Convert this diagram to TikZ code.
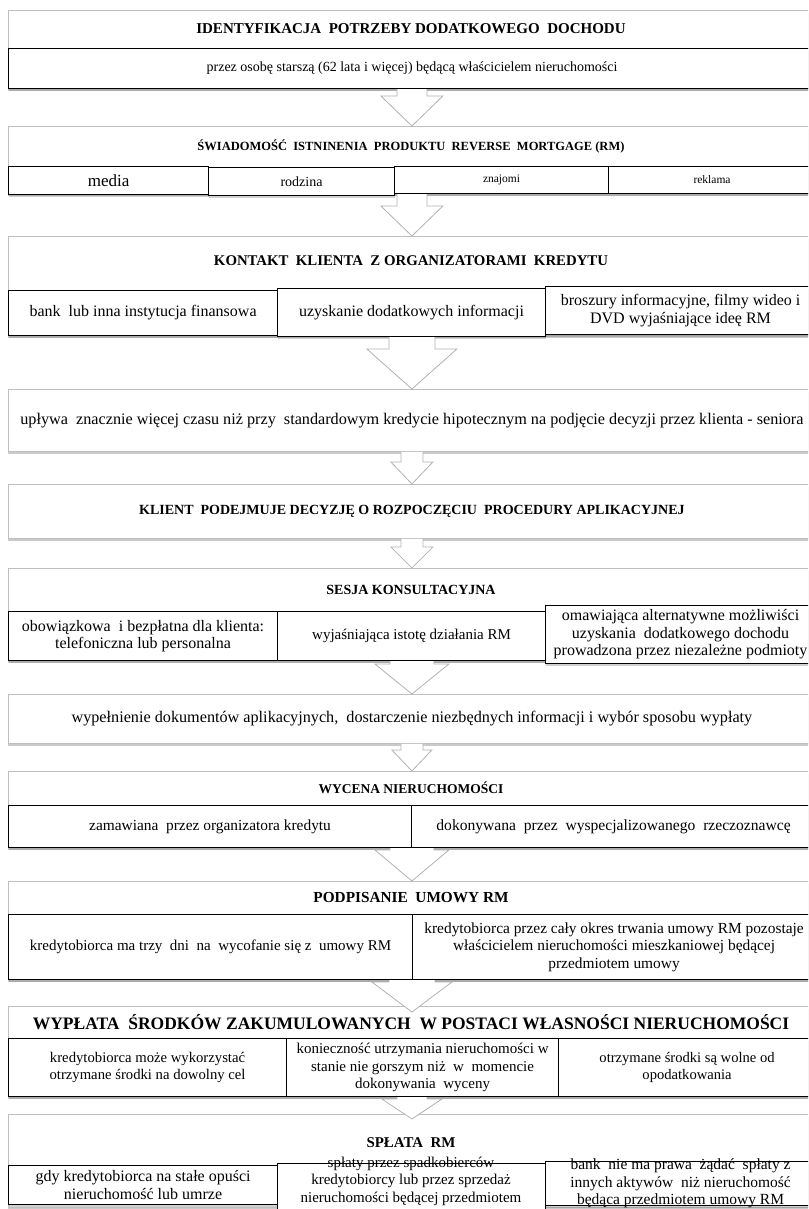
\documentclass[tikz,border=0pt]{standalone}
\usepackage{fontspec}
\setmainfont{Liberation Serif}
\usetikzlibrary{shadows,calc}
\tikzset{
  outerbox/.style={draw=black!25, line width=0.8pt, fill=white, anchor=north west, inner sep=0pt,
     drop shadow={shadow xshift=0pt, shadow yshift=-2.5pt, opacity=0.35, fill=black!60}},
  innerbox/.style={draw=black, line width=1.1pt, fill=white, anchor=north west, inner sep=0pt,
     drop shadow={shadow xshift=0pt, shadow yshift=-2.5pt, opacity=0.3, fill=black!60}},
  ttl/.style={font=\fontsize{#1}{16}\selectfont\bfseries, inner sep=0pt},
  ttl/.default=14,
  txt/.style={font=\fontsize{#1}{17.5}\selectfont, align=center, inner sep=0pt},
  txt/.default=15.5,
  arrowshape/.style={draw=black!30, line width=0.8pt, fill=white},
}
% #1 from node, #2 to node, #3 shaft half width, #4 head half width, #5 head length, #6 tip overlap
\newcommand\blockarrow[6]{%
  \filldraw[arrowshape] let \p1=(#1.south), \p2=(#2.north) in
    (\x2-#3pt,\y1) -- (\x2-#3pt,\y2-#6pt+#5pt) -- (\x2-#4pt,\y2-#6pt+#5pt) -- (\x2,\y2-#6pt)
    -- (\x2+#4pt,\y2-#6pt+#5pt) -- (\x2+#3pt,\y2-#6pt+#5pt) -- (\x2+#3pt,\y1);}
% box helper: name, x1, y1, x2, y2, style
\newcommand\bx[6]{\node[#6, minimum width=#4-#2, minimum height=#5-#3] (#1) at (#2,#3) {};}
\begin{document}
\begin{tikzpicture}[x=1pt,y=-1pt]
\useasboundingbox (0,0) rectangle (808,1209);
\clip (0,0) rectangle (808,1209);
% ---------- block 1
\bx{o1}{8}{10}{815}{88}{outerbox}
\node[ttl=15] (t1) at (411,29) {IDENTYFIKACJA\ \ POTRZEBY DODATKOWEGO\ \ DOCHODU};
\bx{i1}{8}{48}{815}{88}{innerbox}
\node[txt=14] at (i1) {przez osobę starszą (62 lata i więcej) będącą właścicielem nieruchomości};
% ---------- block 2
\bx{o2}{8}{126}{815}{193}{outerbox}
\node[ttl=12.5] (t2) at (411,146) {ŚWIADOMOŚĆ\ \ ISTNINENIA\ \ PRODUKTU\ \ REVERSE\ \ MORTGAGE\ (RM)};
\bx{r2a}{8}{166}{208}{194}{innerbox}
\bx{r2b}{208}{167}{394}{195}{innerbox}
\bx{r2c}{394}{166}{608}{193}{innerbox}
\bx{r2d}{608}{166}{815}{193}{innerbox}
\node[txt=17] at (r2a) {media};
\node[txt=14] at (r2b) {rodzina};
\node[txt=11.5] at (r2c) {znajomi};
\node[txt=11.5] at (r2d) {reklama};
% ---------- block 3
\bx{o3}{8}{236}{815}{335}{outerbox}
\node[ttl=14.8] (t3) at (411,261) {KONTAKT\ \ KLIENTA\ \ Z ORGANIZATORAMI\ \ KREDYTU};
\bx{r3a}{8}{290}{277}{335}{innerbox}
\bx{r3b}{277}{288}{545}{336}{innerbox}
\bx{r3c}{545}{286}{815}{334}{innerbox}
\node[txt=16] at (r3a) {bank\ \ lub inna instytucja finansowa};
\node[txt=16] at (r3b) {uzyskanie dodatkowych informacji};
\node[txt=16] at (r3c) {broszury informacyjne, filmy wideo i\\DVD wyjaśniające ideę RM};
% ---------- block 4
\bx{b4}{8}{389}{815}{451}{outerbox}
\node[txt=16.2] at (b4) {upływa\ \ znacznie więcej czasu niż przy\ \ standardowym kredycie hipotecznym na podjęcie decyzji przez klienta - seniora};
% ---------- block 5
\bx{b5}{8}{484}{815}{538}{outerbox}
\node[ttl=14] at (b5) {KLIENT\ \ PODEJMUJE DECYZJĘ O ROZPOCZĘCIU\ \ PROCEDURY APLIKACYJNEJ};
% ---------- block 6
\bx{o6}{8}{568}{815}{660}{outerbox}
\node[ttl=14] (t6) at (411,590) {SESJA KONSULTACYJNA};
\bx{r6a}{8}{611}{277}{660}{innerbox}
\bx{r6b}{277}{611}{545}{660}{innerbox}
\bx{r6c}{545}{605}{815}{663}{innerbox}
\node[txt=16] at (r6a) {obowiązkowa\ \ i bezpłatna dla klienta:\\telefoniczna lub personalna};
\node[txt=15] at (r6b) {wyjaśniająca istotę działania RM};
\node[txt=16] at (r6c) {omawiająca alternatywne możliwiści\\uzyskania\ \ dodatkowego dochodu\\prowadzona przez niezależne podmioty};
% ---------- block 7
\bx{b7}{8}{694}{815}{743}{outerbox}
\node[txt=16.2] at (b7) {wypełnienie dokumentów aplikacyjnych,\ \ dostarczenie niezbędnych informacji i wybór sposobu wypłaty};
% ---------- block 8
\bx{o8}{8}{771}{815}{847}{outerbox}
\node[ttl=13.5] (t8) at (411,788) {WYCENA NIERUCHOMOŚCI};
\bx{r8a}{8}{805}{411}{847}{innerbox}
\bx{r8b}{411}{805}{815}{847}{innerbox}
\node[txt=15.4] at (r8a) {zamawiana\ \ przez organizatora kredytu};
\node[txt=15.6] at (r8b) {dokonywana\ \ przez\ \ wyspecjalizowanego\ \ rzeczoznawcę};
% ---------- block 9
\bx{o9}{8}{881}{815}{979}{outerbox}
\node[ttl=15.3] (t9) at (411,898) {PODPISANIE\ \ UMOWY RM};
\bx{r9a}{8}{914}{412}{979}{innerbox}
\bx{r9b}{412}{914}{815}{979}{innerbox}
\node[txt=15] at (r9a) {kredytobiorca ma trzy\ \ dni\ \ na\ \ wycofanie się z\ \ umowy RM};
\node[txt=15.4] at (r9b) {kredytobiorca przez cały okres trwania umowy RM pozostaje\\właścicielem nieruchomości mieszkaniowej będącej\\przedmiotem umowy};
% ---------- block 10
\bx{o10}{8}{1006}{815}{1096}{outerbox}
\node[ttl=17.5] (t10) at (411,1022) {WYPŁATA\ \ ŚRODKÓW ZAKUMULOWANYCH\ \ W POSTACI WŁASNOŚCI NIERUCHOMOŚCI};
\bx{r10a}{8}{1038}{286}{1096}{innerbox}
\bx{r10b}{286}{1038}{558}{1096}{innerbox}
\bx{r10c}{558}{1038}{815}{1096}{innerbox}
\node[txt=14.7] at (r10a) {kredytobiorca może wykorzystać\\otrzymane środki na dowolny cel};
\node[txt=15] at (r10b) {konieczność utrzymania nieruchomości w\\stanie nie gorszym niż\ \ w\ \ momencie\\dokonywania\ \ wyceny};
\node[txt=14.6] at (r10c) {otrzymane środki są wolne od\\opodatkowania};
% ---------- block 11
\bx{o11}{8}{1114}{815}{1207}{outerbox}
\node[ttl=14.9] (t11) at (411,1143) {SPŁATA\ \ RM};
\bx{r11a}{8}{1165}{277}{1204}{innerbox}
\bx{r11c}{545}{1161}{815}{1205}{innerbox}
\bx{r11b}{277}{1163}{545}{1218}{innerbox}
\node[txt=16] at (r11a) {gdy kredytobiorca na stałe opuści\\nieruchomość lub umrze};
\node[txt=15] at (411,1190) {spłaty przez spadkobierców\\kredytobiorcy lub przez sprzedaż\\nieruchomości będącej przedmiotem\\umowy RM};
\node[txt=15.5] at (r11c) {bank\ \ nie ma prawa\ \ żądać\ \ spłaty z\\innych aktywów\ \ niż nieruchomość\\będąca przedmiotem umowy RM};
% ---------- arrows
\blockarrow{i1}{o2}{15}{31}{30}{0}
\blockarrow{r2c}{o3}{15}{31}{30}{0}
\blockarrow{r3b}{b4}{23}{45}{40}{0}
\blockarrow{b4}{b5}{11}{21}{22}{0}
\blockarrow{b5}{o6}{11}{21}{21}{0}
\blockarrow{r6b}{b7}{22}{37}{30}{0}
\blockarrow{b7}{o8}{11}{20}{21}{0}
\blockarrow{r8a}{o9}{22}{37}{31}{0}
\blockarrow{r9a}{o10}{23}{40}{30}{6}
\blockarrow{r10b}{o11}{15}{30}{20}{5}
\end{tikzpicture}
\end{document}
